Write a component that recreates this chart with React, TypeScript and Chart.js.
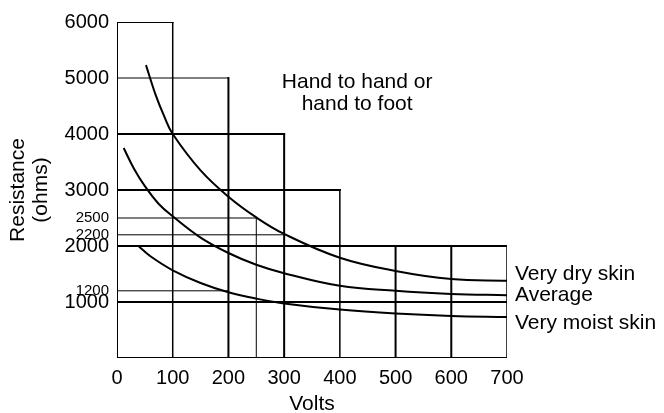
import React, { useEffect, useRef } from "react";
import { Chart, registerables } from "chart.js";

Chart.register(...registerables);

// ---- data ----
const voltTicks = [0, 100, 200, 300, 400, 500, 600, 700];
const resistanceMajorTicks = [1000, 2000, 3000, 4000, 5000, 6000];
const resistanceMinorTicks = [1200, 2200, 2500];

const dryVolts = [52, 70, 85, 100, 150, 200, 250, 300, 400, 500, 600, 700];
const dryOhms = [5230, 4680, 4310, 4000, 3350, 2880, 2510, 2215, 1790, 1555, 1410, 1380];

const avgVolts = [12, 30, 50, 75, 100, 150, 200, 250, 300, 400, 500, 600, 700];
const avgOhms = [3750, 3390, 3070, 2750, 2530, 2150, 1875, 1665, 1515, 1290, 1200, 1145, 1120];

const moistVolts = [39, 60, 100, 150, 200, 250, 300, 400, 500, 600, 700];
const moistOhms = [1995, 1816, 1566, 1340, 1175, 1060, 975, 864, 793, 750, 732];

const gridVerticalVolts = [0, 100, 200, 250, 300, 400, 500, 600, 700];
const gridVerticalTops = [6000, 6000, 5000, 2500, 4000, 3000, 2000, 2000, 2000];
const gridHorizontalOhms = [0, 1000, 1200, 2000, 2200, 2500, 3000, 4000, 5000, 6000];
const gridHorizontalEnds = [700, 700, 200, 700, 300, 250, 400, 300, 200, 100];

const curveNames = ["Very dry skin", "Average", "Very moist skin"];
const curveLabelOhms = [1490, 1125, 625];
const noteLines = ["Hand to hand or", "hand to foot"];
const noteVolts = 431;
const noteOhms = [4930, 4535];

// ---- styles ----
const FONT = "'Liberation Sans', Arial, Helvetica, sans-serif";
const thinVerticals = [250];
const mediumVerticals = [100, 400, 700];
const thinHorizontals = [5000, 2500, 2200, 1200];

function vWidth(v: number) {
  if (thinVerticals.includes(v)) return 1;
  if (mediumVerticals.includes(v)) return 1.5;
  return 2;
}
function hWidth(v: number) {
  if (thinHorizontals.includes(v)) return 1;
  return 2;
}

const textPlugin = {
  id: "textNotes",
  afterDatasetsDraw(chart: any) {
    const { ctx, scales } = chart;
    const xs = scales.x;
    const ys = scales.y;
    ctx.save();
    ctx.fillStyle = "#000";
    ctx.font = `21px ${FONT}`;
    ctx.textBaseline = "middle";
    ctx.textAlign = "left";
    const xr = xs.getPixelForValue(700) + 8;
    curveNames.forEach((n, i) => {
      ctx.fillText(n, xr, ys.getPixelForValue(curveLabelOhms[i]));
    });
    ctx.textAlign = "center";
    noteLines.forEach((n, i) => {
      ctx.fillText(n, xs.getPixelForValue(noteVolts), ys.getPixelForValue(noteOhms[i]));
    });
    ctx.restore();
  },
};

export default function App() {
  const ref = useRef<HTMLCanvasElement | null>(null);
  useEffect(() => {
    if (!ref.current) return;
    Chart.defaults.font.family = FONT;
    Chart.defaults.color = "#000";

    const datasets: any[] = [];
    gridVerticalVolts.forEach((v, i) => {
      datasets.push({
        data: [
          { x: v, y: 0 },
          { x: v, y: gridVerticalTops[i] },
        ],
        borderColor: "#000",
        borderWidth: vWidth(v),
        pointRadius: 0,
        borderCapStyle: "square",
      });
    });
    gridHorizontalOhms.forEach((h, i) => {
      datasets.push({
        data: [
          { x: 0, y: h },
          { x: gridHorizontalEnds[i], y: h },
        ],
        borderColor: "#000",
        borderWidth: hWidth(h),
        pointRadius: 0,
        borderCapStyle: "square",
      });
    });
    const curves = [
      [dryVolts, dryOhms],
      [avgVolts, avgOhms],
      [moistVolts, moistOhms],
    ];
    curves.forEach(([xs, ys]) => {
      datasets.push({
        data: xs.map((x, i) => ({ x, y: ys[i] })),
        borderColor: "#000",
        borderWidth: 2,
        pointRadius: 0,
        tension: 0.4,
      });
    });

    const chart = new Chart(ref.current, {
      type: "line",
      data: { datasets },
      options: {
        animation: false,
        responsive: true,
        maintainAspectRatio: false,
        layout: { padding: { left: 0, right: 157, top: 22, bottom: 0 } },
        plugins: { legend: { display: false }, tooltip: { enabled: false } },
        scales: {
          x: {
            type: "linear",
            min: 0,
            max: 700,
            grid: { display: false, drawTicks: false },
            border: { display: false },
            afterBuildTicks: (scale: any) => {
              scale.ticks = voltTicks.map((v) => ({ value: v }));
            },
            afterFit: (scale: any) => {
              scale.height = 55;
            },
            ticks: {
              padding: 8,
              font: { size: 20 },
              color: "#000",
              autoSkip: false,
              maxRotation: 0,
              callback: (v: any) => String(v),
            },
            title: {
              display: true,
              text: "Volts",
              font: { size: 21, lineHeight: 1.2 },
              color: "#000",
              padding: { top: 0, bottom: -3.6 },
            },
          },
          y: {
            type: "linear",
            min: 0,
            max: 6000,
            grid: { display: false, drawTicks: false },
            border: { display: false },
            afterBuildTicks: (scale: any) => {
              scale.ticks = [...resistanceMajorTicks, ...resistanceMinorTicks]
                .sort((a, b) => a - b)
                .map((v) => ({ value: v }));
            },
            afterFit: (scale: any) => {
              scale.width = 117;
            },
            ticks: {
              padding: 8,
              autoSkip: false,
              color: "#000",
              font: (c: any) =>
                c.tick && resistanceMinorTicks.includes(c.tick.value)
                  ? { size: 15 }
                  : { size: 20 },
              callback: (v: any) => String(v),
            },
            title: {
              display: true,
              text: ["Resistance", "(ohms)"],
              font: { size: 21, lineHeight: 1.1 },
              color: "#000",
              padding: { top: 6.5, bottom: 0 },
            },
          },
        },
      },
      plugins: [textPlugin],
    });
    return () => chart.destroy();
  }, []);

  return (
    <div
      style={{
        position: "fixed",
        left: 0,
        top: 0,
        width: 664,
        height: 413,
        background: "#fff",
      }}
    >
      <canvas ref={ref} />
    </div>
  );
}
